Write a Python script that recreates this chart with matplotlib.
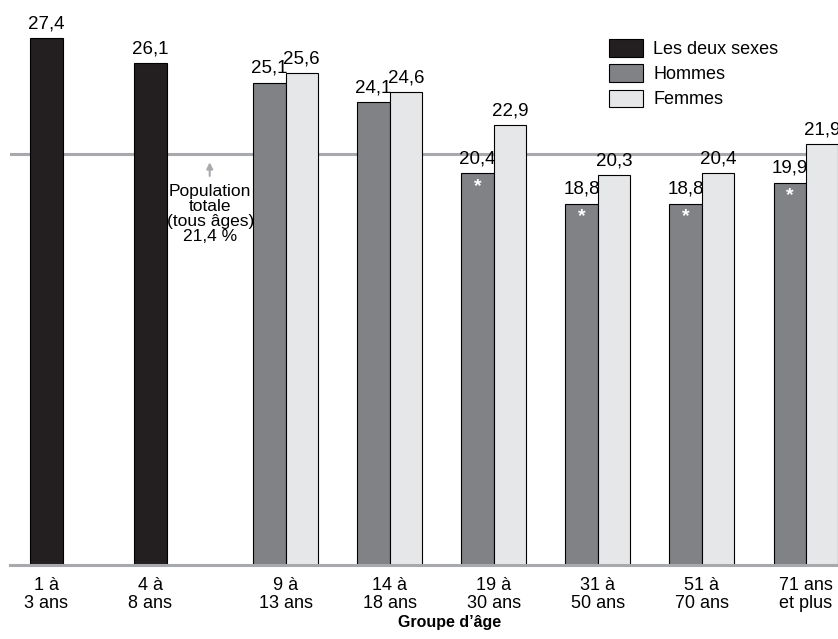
import numpy as np
import matplotlib.pyplot as plt
from matplotlib.patches import Patch

plt.rcParams['font.family'] = ['Liberation Sans', 'DejaVu Sans']

groupes = ['1 à\n3 ans', '4 à\n8 ans', '9 à\n13 ans', '14 à\n18 ans',
           '19 à\n30 ans', '31 à\n50 ans', '51 à\n70 ans', '71 ans\net plus']
deux_sexes = [27.4, 26.1]
hommes = [25.1, 24.1, 20.4, 18.8, 18.8, 19.9]
femmes = [25.6, 24.6, 22.9, 20.3, 20.4, 21.9]
hommes_signif = [False, False, True, True, True, True]
pop_totale = 21.4

c_deux = '#231f20'
c_hom = '#808285'
c_fem = '#e6e7e8'
c_ligne = '#a7a9ac'

W, H = 838, 639
fig = plt.figure(figsize=(W / 100, H / 100), dpi=100)
ax = fig.add_axes([10 / W, (H - 565) / H, 828 / W, 565 / H])

pos = np.array([0, 1, 2.3, 3.3, 4.3, 5.3, 6.3, 7.3])
bw = 0.31

def fmt(v):
    return f'{v:.1f}'.replace('.', ',')

ax.axhline(pop_totale, color=c_ligne, lw=2.2, zorder=1)

ax.bar(pos[:2], deux_sexes, bw, color=c_deux, edgecolor='black', lw=0.8, zorder=2)
ax.bar(pos[2:] - bw / 2, hommes, bw, color=c_hom, edgecolor='black', lw=0.8, zorder=2)
ax.bar(pos[2:] + bw / 2, femmes, bw, color=c_fem, edgecolor='black', lw=0.8, zorder=2)

for x, v in zip(pos[:2], deux_sexes):
    ax.text(x, v + 0.3, fmt(v), ha='center', va='bottom', fontsize=13.5)
for x, v, s in zip(pos[2:] - bw / 2, hommes, hommes_signif):
    ax.text(x, v + 0.3, fmt(v), ha='center', va='bottom', fontsize=13.5)
    if s:
        ax.text(x, v - 0.25, '*', ha='center', va='top', fontsize=14,
                color='white', fontweight='bold')
for x, v in zip(pos[2:] + bw / 2, femmes):
    ax.text(x, v + 0.3, fmt(v), ha='center', va='bottom', fontsize=13.5)

# annotation for the overall population line
ax.annotate('', xy=(1.57, pop_totale - 0.3), xytext=(1.57, pop_totale - 1.3),
            arrowprops=dict(arrowstyle='-|>', color=c_ligne, lw=1.5,
                            mutation_scale=9))
ax.text(1.575, pop_totale - 1.6, 'Population\ntotale\n(tous âges)\n21,4 %',
        ha='center', va='top', fontsize=12.5, linespacing=0.98)

ax.set_xlim(-0.35, 7.61)
ax.set_ylim(0, 29.4)
for side in ['top', 'right', 'left']:
    ax.spines[side].set_visible(False)
ax.spines['bottom'].set_color(c_ligne)
ax.spines['bottom'].set_linewidth(2.2)
ax.set_yticks([])
ax.set_xticks(pos)
ax.set_xticklabels(groupes, fontsize=13, linespacing=1.0)
ax.tick_params(axis='x', length=0, pad=9)
ax.set_xlabel('Groupe d’âge', fontsize=11.5, fontweight='bold')
ax.xaxis.set_label_coords((450 - 10) / 828, -(623 - 565) / 565)
ax.xaxis.label.set_va('center')

handles = [Patch(facecolor=c_deux, edgecolor='black', lw=0.8, label='Les deux sexes'),
           Patch(facecolor=c_hom, edgecolor='black', lw=0.8, label='Hommes'),
           Patch(facecolor=c_fem, edgecolor='black', lw=0.8, label='Femmes')]
fig.legend(handles=handles, loc='upper left', bbox_to_anchor=(593 / W, 1 - 23 / H),
           frameon=False, fontsize=13, handlelength=1.85, handleheight=1.1,
           handletextpad=0.6, labelspacing=0.35)

fig.savefig('out.png', dpi=100)
